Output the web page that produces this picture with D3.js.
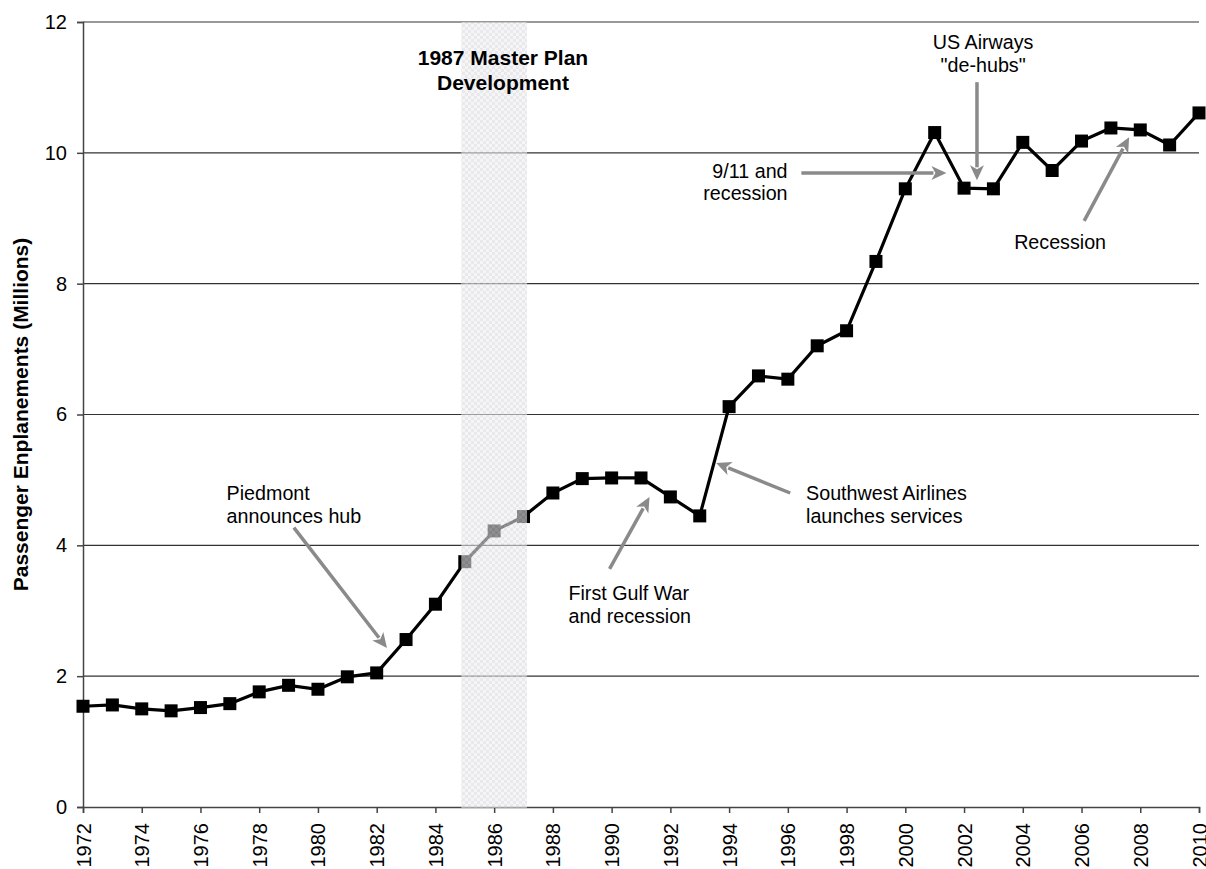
<!DOCTYPE html>
<html>
<head>
<meta charset="utf-8">
<script src="https://cdn.jsdelivr.net/npm/d3@7"></script>
<style>
  html, body { margin: 0; padding: 0; background: #fff; }
  svg { display: block; font-family: "Liberation Sans", Arial, Helvetica, sans-serif; }
</style>
</head>
<body>
<svg id="chart" width="1206" height="869"></svg>
<script>
// ---- Data ----
const years = d3.range(1972, 2011);
const enplanements = [
  1.54, 1.56, 1.50, 1.47, 1.52, 1.58, 1.76, 1.86, 1.80, 1.99,
  2.05, 2.56, 3.10, 3.75, 4.22, 4.44, 4.80, 5.02, 5.03, 5.03,
  4.74, 4.45, 6.12, 6.59, 6.54, 7.05, 7.28, 8.34, 9.45, 10.31,
  9.46, 9.45, 10.16, 9.73, 10.18, 10.38, 10.35, 10.12, 10.61
];
const yTicks = [0, 2, 4, 6, 8, 10, 12];
const xTicks = d3.range(1972, 2011, 2);
const bandYears = [1985, 1987];
const yLabel = "Passenger Enplanements (Millions)";

// annotation texts (anchor in data space: year, value)
const noteTexts = [
  { lines: ["1987 Master Plan", "Development"], year: 1986.3, value: 11.34, anchor: "middle", bold: true },
  { lines: ["9/11 and", "recession"], year: 1995.99, value: 9.62, anchor: "end" },
  { lines: ["US Airways", "\"de-hubs\""], year: 2002.65, value: 11.59, anchor: "middle" },
  { lines: ["Recession"], year: 2005.27, value: 8.53, anchor: "middle" },
  { lines: ["Piedmont", "announces hub"], year: 1976.89, value: 4.692, anchor: "start" },
  { lines: ["First Gulf War", "and recession"], year: 1988.53, value: 3.165, anchor: "start" },
  { lines: ["Southwest Airlines", "launches services"], year: 1996.62, value: 4.692, anchor: "start" }
];
// arrows: from -> to (year, value)
const noteArrows = [
  { x1: 1979.18, y1: 4.27, x2: 1982.35, y2: 2.43 },
  { x1: 1989.93, y1: 3.64, x2: 1991.29, y2: 4.74 },
  { x1: 1996.08, y1: 4.80, x2: 1993.56, y2: 5.26 },
  { x1: 1996.46, y1: 9.69, x2: 2001.40, y2: 9.69 },
  { x1: 2002.44, y1: 11.08, x2: 2002.44, y2: 9.58 },
  { x1: 2006.09, y1: 8.96, x2: 2007.62, y2: 10.24 }
];

// ---- Layout ----
const svg = d3.select("#chart");
const padL = 83, padR = 1199, padT = 22, padB = 807;
const x = d3.scaleLinear().domain([1972, 2010]).range([padL, padR]);
const y = d3.scaleLinear().domain([0, 12]).range([padB, padT]);

// checker pattern for band
const defs = svg.append("defs");
const pat = defs.append("pattern").attr("id", "checker").attr("patternUnits", "userSpaceOnUse")
  .attr("width", 6).attr("height", 6);
pat.append("rect").attr("width", 6).attr("height", 6).attr("fill", "#efeff1");
pat.append("rect").attr("width", 3).attr("height", 3).attr("fill", "#dadade");
pat.append("rect").attr("x", 3).attr("y", 3).attr("width", 3).attr("height", 3).attr("fill", "#dadade");

// gridlines
svg.append("g").selectAll("line").data(yTicks.filter(d => d > 0)).join("line")
  .attr("x1", padL).attr("x2", padR)
  .attr("y1", d => y(d)).attr("y2", d => y(d))
  .attr("stroke", "#333").attr("stroke-width", 1.2);

// y axis
const yAxis = svg.append("g").attr("transform", `translate(${padL},0)`)
  .call(d3.axisLeft(y).tickValues(yTicks).tickSize(6).tickPadding(10).tickFormat(d3.format("d")));
yAxis.select(".domain").attr("stroke", "#444").attr("stroke-width", 1.5);
yAxis.selectAll(".tick line").attr("stroke", "#444").attr("stroke-width", 1.5);
yAxis.selectAll("text").attr("font-size", 20).attr("fill", "#000")
  .attr("font-family", "Liberation Sans, Arial, sans-serif");

// x axis
const xAxis = svg.append("g").attr("transform", `translate(0,${padB})`)
  .call(d3.axisBottom(x).tickValues(xTicks).tickSize(6).tickFormat(d3.format("d")));
xAxis.select(".domain").attr("stroke", "#444").attr("stroke-width", 1.5);
xAxis.selectAll(".tick line").attr("stroke", "#444").attr("stroke-width", 1.5);
xAxis.selectAll("text").attr("font-size", 20).attr("fill", "#000")
  .attr("font-family", "Liberation Sans, Arial, sans-serif")
  .attr("transform", "rotate(-90)")
  .attr("text-anchor", "end")
  .attr("x", -16).attr("y", 0).attr("dy", "0.35em");

// y label
svg.append("text")
  .attr("transform", `translate(28,${(padT + padB) / 2}) rotate(-90)`)
  .attr("text-anchor", "middle").attr("font-weight", "bold").attr("font-size", 21)
  .text(yLabel);

// line + markers
const data = years.map((yr, i) => ({ yr, v: enplanements[i] }));
svg.append("path").datum(data)
  .attr("fill", "none").attr("stroke", "#000").attr("stroke-width", 3.2)
  .attr("stroke-linejoin", "miter")
  .attr("d", d3.line().x(d => x(d.yr)).y(d => y(d.v)));
const ms = 13;
svg.append("g").selectAll("rect").data(data).join("rect")
  .attr("x", d => x(d.yr) - ms / 2).attr("y", d => y(d.v) - ms / 2)
  .attr("width", ms).attr("height", ms).attr("fill", "#000");

// shaded band (overlay)
svg.append("rect")
  .attr("x", x(bandYears[0]) - 3.5).attr("width", x(bandYears[1]) - x(bandYears[0]) + 7)
  .attr("y", padT).attr("height", padB - padT + 1)
  .attr("fill", "url(#checker)").attr("opacity", 0.6);

// annotation texts
noteTexts.forEach(n => {
  const t = svg.append("text")
    .attr("x", x(n.year)).attr("y", y(n.value))
    .attr("text-anchor", n.anchor)
    .attr("font-size", n.bold ? 21 : 19.7)
    .attr("font-weight", n.bold ? "bold" : "normal")
    .attr("fill", "#000");
  n.lines.forEach((l, i) => {
    t.append("tspan").attr("x", x(n.year)).attr("dy", i === 0 ? 0 : (n.bold ? 24.5 : 22.7)).text(l);
  });
});

// arrows
const ag = svg.append("g");
noteArrows.forEach(a => {
  const x1 = x(a.x1), y1 = y(a.y1), x2 = x(a.x2), y2 = y(a.y2);
  const ang = Math.atan2(y2 - y1, x2 - x1);
  const hl = 15, hw = 7;
  const bx = x2 - hl * Math.cos(ang), by = y2 - hl * Math.sin(ang);
  ag.append("line").attr("x1", x1).attr("y1", y1).attr("x2", bx + 2 * Math.cos(ang)).attr("y2", by + 2 * Math.sin(ang))
    .attr("stroke", "#8a8a8a").attr("stroke-width", 3.5);
  const px = -Math.sin(ang), py = Math.cos(ang);
  ag.append("path")
    .attr("d", `M${x2},${y2}L${bx + hw * px},${by + hw * py}L${bx + 4 * Math.cos(ang)},${by + 4 * Math.sin(ang)}L${bx - hw * px},${by - hw * py}Z`)
    .attr("fill", "#8a8a8a");
});
</script>
</body>
</html>
